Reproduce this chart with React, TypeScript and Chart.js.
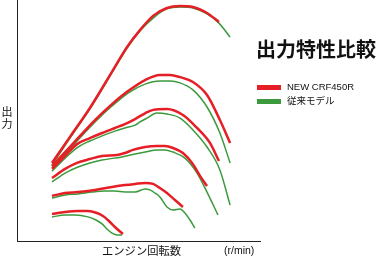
import React, { useEffect, useRef } from "react";
import { Chart, registerables } from "chart.js";

Chart.register(...registerables);

// [rpm %, power %] — NEW CRF450R (red)
const newCurve1 = [[14.4,32.4],[21.8,43.2],[30.0,55.2],[39.5,70.9],[45.3,80.5],[50.6,87.5],[56.0,93.4],[61.7,96.7],[67.1,97.5],[72.4,97.1],[78.2,94.6],[83.1,90.9]];
const newCurve2 = [[14.4,31.1],[19.8,36.9],[25.1,42.7],[32.1,50.2],[39.1,56.8],[45.7,62.2],[52.7,66.8],[58.8,68.9],[63.0,68.9],[67.1,68.0],[72.4,66.0],[78.2,60.6],[83.5,50.2],[87.7,40.7]];
const newCurve3 = [[14.4,29.9],[19.8,35.3],[24.7,40.2],[30.0,42.7],[35.0,44.8],[40.3,46.9],[44.4,48.5],[48.6,50.6],[52.7,53.0],[56.0,54.4],[61.7,54.8],[68.3,52.3],[74.1,46.9],[79.4,40.7],[83.1,33.2]];
const newCurve4 = [[14.4,26.1],[19.8,29.9],[24.7,32.4],[30.0,34.0],[35.0,35.3],[41.2,35.7],[44.4,36.5],[47.7,37.8],[52.7,39.0],[57.6,39.4],[60.9,39.4],[64.2,38.6],[68.3,36.5],[72.4,31.9],[75.3,27.0],[78.2,22.8]];
const newCurve5 = [[14.4,18.7],[19.8,19.9],[25.1,20.3],[32.1,21.2],[39.1,22.4],[44.4,23.2],[48.6,23.7],[52.7,24.1],[56.0,23.7],[58.8,22.0],[61.7,19.9],[65.0,17.0],[68.3,14.1]];
const newCurve6 = [[14.4,11.2],[19.8,12.0],[25.1,12.4],[29.2,12.4],[32.9,11.6],[35.4,10.4],[37.4,8.7],[40.3,5.8],[43.6,2.9]];

// 従来モデル (green)
const oldCurve1 = [[14.4,31.5],[21.8,42.7],[30.0,54.8],[39.5,70.5],[45.3,80.1],[50.6,87.1],[56.0,92.5],[61.7,96.3],[67.1,97.1],[72.4,96.7],[78.2,94.2],[83.1,90.4],[87.7,84.6]];
const oldCurve2 = [[14.4,30.3],[19.8,36.1],[25.1,41.9],[32.1,49.4],[39.1,56.0],[45.7,61.4],[52.7,65.1],[58.8,66.4],[63.0,66.4],[67.1,65.6],[72.4,62.7],[78.2,55.6],[83.5,44.8],[87.7,32.4]];
const oldCurve3 = [[14.4,29.0],[19.8,34.4],[25.1,39.0],[30.0,41.5],[35.0,43.6],[40.3,45.6],[44.4,46.9],[48.6,48.1],[50.6,49.4],[53.5,51.0],[57.6,53.1],[61.7,52.7],[67.1,51.0],[72.4,46.1],[78.2,39.0],[83.5,29.5],[87.7,14.9]];
const oldCurve4 = [[14.4,24.5],[19.8,28.2],[25.1,30.7],[30.0,32.4],[35.0,33.6],[43.2,34.9],[48.6,36.1],[52.7,36.9],[57.6,37.8],[60.9,37.8],[64.2,36.9],[69.1,34.4],[74.1,28.2],[78.2,20.3],[82.7,10.8]];
const oldCurve5 = [[14.4,17.8],[19.8,19.1],[25.1,19.5],[30.9,20.3],[36.2,20.7],[40.3,20.7],[44.4,20.3],[48.6,20.3],[52.7,21.6],[54.7,21.2],[56.8,19.9],[58.8,18.3],[61.7,14.1],[64.2,12.9],[67.1,13.3],[69.1,11.6],[71.2,8.7],[73.2,5.4]];
const oldCurve6 = [[14.4,10.0],[19.8,10.8],[23.9,10.8],[29.2,10.0],[32.5,8.7],[35.0,7.1],[37.0,5.0],[39.1,3.3],[41.2,2.5],[43.2,2.5]];

const newCurves = [newCurve1, newCurve2, newCurve3, newCurve4, newCurve5, newCurve6];
const oldCurves = [oldCurve1, oldCurve2, oldCurve3, oldCurve4, oldCurve5, oldCurve6];

const titleText = "出力特性比較";
const seriesNames = ["NEW CRF450R", "従来モデル"];
const yAxisLabel = ["出", "力"];
const xAxisLabel = "エンジン回転数";
const unitLabel = "(r/min)";

const RED = "#e61e25";
const GREEN = "#3b9a3c";

export default function App() {
  const ref = useRef<HTMLCanvasElement | null>(null);

  useEffect(() => {
    document.body.style.margin = "0";
    const canvas = ref.current;
    if (!canvas) return;
    const toPts = (c: number[][]) => c.map(([x, y]) => ({ x, y }));
    const datasets: any[] = [];
    newCurves.forEach((c, i) =>
      datasets.push({
        label: seriesNames[0] + " " + (i + 1),
        data: toPts(c),
        borderColor: RED,
        borderWidth: 2.5,
        pointRadius: 0,
        cubicInterpolationMode: "monotone",
        fill: false,
      })
    );
    oldCurves.forEach((c, i) =>
      datasets.push({
        label: seriesNames[1] + " " + (i + 1),
        data: toPts(c),
        borderColor: GREEN,
        borderWidth: 1.5,
        pointRadius: 0,
        cubicInterpolationMode: "monotone",
        fill: false,
      })
    );
    const chart = new Chart(canvas, {
      type: "line",
      data: { datasets },
      options: {
        animation: false,
        responsive: false,
        maintainAspectRatio: false,
        layout: { padding: { left: 17, right: 127, top: 0, bottom: 19 } },
        plugins: { legend: { display: false }, tooltip: { enabled: false } },
        scales: {
          x: {
            type: "linear",
            min: 0,
            max: 100,
            ticks: { display: false },
            grid: { display: false, drawTicks: false },
            border: { display: true, color: "#222", width: 1 },
          },
          y: {
            type: "linear",
            min: 0,
            max: 100,
            ticks: { display: false },
            grid: { display: false, drawTicks: false },
            border: { display: true, color: "#222", width: 1 },
          },
        },
      },
    });
    return () => chart.destroy();
  }, []);

  const sans = "'Liberation Sans', Arial, sans-serif";
  const cjk = "'Noto Sans CJK JP', sans-serif";

  return (
    <div style={{ position: "relative", width: 387, height: 260, background: "#fff", overflow: "hidden" }}>
      <canvas ref={ref} width={387} height={260} style={{ position: "absolute", left: 0, top: 0, width: 387, height: 260 }} />
      <div style={{ position: "absolute", left: 256, top: 36, fontFamily: cjk, fontSize: 20, fontWeight: 700, lineHeight: "26px", color: "#111", whiteSpace: "nowrap" }}>
        {titleText}
      </div>
      <div style={{ position: "absolute", left: 257, top: 85, width: 24, height: 5, background: RED }} />
      <div style={{ position: "absolute", left: 257, top: 99, width: 24, height: 5, background: GREEN }} />
      <div style={{ position: "absolute", left: 287, top: 80, fontFamily: sans, fontSize: 9.5, lineHeight: "14px", color: "#111", whiteSpace: "nowrap" }}>
        {seriesNames[0]}
      </div>
      <div style={{ position: "absolute", left: 287, top: 93, fontFamily: cjk, fontSize: 9.5, lineHeight: "14px", color: "#111", whiteSpace: "nowrap" }}>
        {seriesNames[1]}
      </div>
      <div style={{ position: "absolute", left: 1, top: 105, width: 12, fontFamily: cjk, fontSize: 11, lineHeight: "12px", color: "#111", textAlign: "center" }}>
        {yAxisLabel.map((c, i) => (
          <div key={i}>{c}</div>
        ))}
      </div>
      <div style={{ position: "absolute", left: 102, top: 243, fontFamily: cjk, fontSize: 11.3, lineHeight: "15px", color: "#111", whiteSpace: "nowrap" }}>
        {xAxisLabel}
      </div>
      <div style={{ position: "absolute", left: 224, top: 243, fontFamily: sans, fontSize: 10.5, lineHeight: "15px", color: "#111", whiteSpace: "nowrap" }}>
        {unitLabel}
      </div>
    </div>
  );
}
